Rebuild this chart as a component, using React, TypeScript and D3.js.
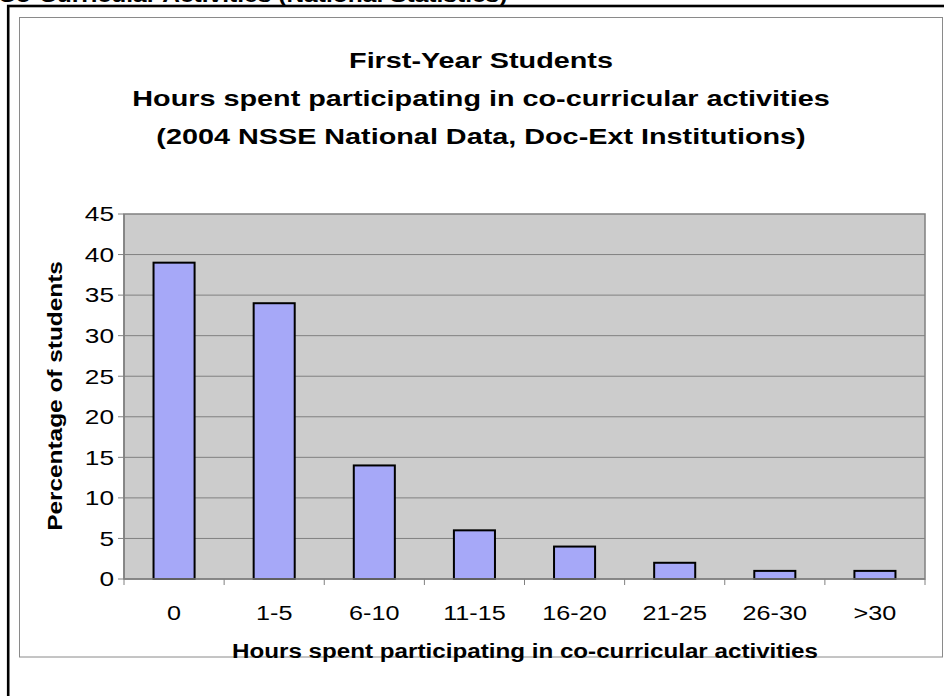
import React from "react";
import * as d3 from "d3";

const categories = ["0", "1-5", "6-10", "11-15", "16-20", "21-25", "26-30", ">30"];
const percentages = [39, 34, 14, 6, 4, 2, 1, 1];
const yTicks = [0, 5, 10, 15, 20, 25, 30, 35, 40, 45];
const titleLines = [
  "First-Year Students",
  "Hours spent participating in co-curricular activities",
  "(2004 NSSE National Data, Doc-Ext Institutions)",
];
const pageHeading = "Co-Curricular Activities (National Statistics)";
const xTitle = "Hours spent participating in co-curricular activities";
const yTitle = "Percentage of students";

const font = "'Liberation Sans', Arial, sans-serif";

// the source's text is wider than Liberation Sans at the same height,
// so every label is stretched along its own direction
const WideText = ({ x, y, sx, rotate, children, ...rest }: any) => (
  <text
    transform={`translate(${x},${y})${rotate ? ` rotate(${rotate})` : ""} scale(${sx},1)`}
    fill="#000"
    {...rest}
  >
    {children}
  </text>
);

const App = () => {
  const plot = { left: 124, right: 925, top: 214, bottom: 579 };

  const x = d3.scaleBand<string>().domain(categories).range([plot.left, plot.right]);
  const y = d3.scaleLinear().domain([0, 45]).range([plot.bottom, plot.top]);
  const barW = x.bandwidth() * 0.41;

  return (
    <svg
      width={944}
      height={696}
      style={{ position: "absolute", left: 0, top: 0, background: "#fff" }}
      fontFamily={font}
    >
      {/* page heading, cut off by the top edge as in the source */}
      <WideText x={-2} y={2} sx={1.17} fontSize={21} fontWeight="bold">
        {pageHeading}
      </WideText>
      {/* outer frame */}
      <rect x={8.2} y={6} width={960} height={720} fill="none" stroke="#000" strokeWidth={2.6} />
      <rect x={19.5} y={17.5} width={923} height={639.5} fill="#fff" stroke="#8a8a8a" strokeWidth={1} />

      {titleLines.map((t, i) => (
        <WideText
          key={t}
          x={481}
          y={68 + i * 38}
          sx={1.28}
          textAnchor="middle"
          fontSize={22.5}
          fontWeight="bold"
        >
          {t}
        </WideText>
      ))}

      <rect
        x={plot.left}
        y={plot.top}
        width={plot.right - plot.left}
        height={plot.bottom - plot.top}
        fill="#cccccc"
        stroke="#808080"
        strokeWidth={1.5}
      />
      {yTicks.slice(1, -1).map((t) => (
        <line key={t} x1={plot.left} x2={plot.right} y1={y(t)} y2={y(t)} stroke="#808080" strokeWidth={1} />
      ))}

      {categories.map((c, i) => (
        <rect
          key={c}
          x={(x(c) as number) + x.bandwidth() / 2 - barW / 2}
          y={y(percentages[i])}
          width={barW}
          height={y(0) - y(percentages[i])}
          fill="#a6a8f8"
          stroke="#000"
          strokeWidth={2}
        />
      ))}

      {/* axes */}
      <line x1={plot.left} x2={plot.left} y1={plot.top} y2={plot.bottom} stroke="#808080" strokeWidth={1.5} />
      <line x1={plot.left} x2={plot.right} y1={plot.bottom} y2={plot.bottom} stroke="#808080" strokeWidth={1.5} />
      {yTicks.map((t) => (
        <g key={t}>
          <line x1={plot.left - 6} x2={plot.left} y1={y(t)} y2={y(t)} stroke="#808080" strokeWidth={1} />
          <WideText x={114} y={y(t)} sx={1.25} dy="0.35em" textAnchor="end" fontSize={21}>
            {t}
          </WideText>
        </g>
      ))}
      {[...categories.map((c) => x(c) as number), plot.right].map((v, i) => (
        <line key={i} x1={v} x2={v} y1={plot.bottom} y2={plot.bottom + 6} stroke="#808080" strokeWidth={1} />
      ))}
      {categories.map((c) => (
        <WideText
          key={c}
          x={(x(c) as number) + x.bandwidth() / 2}
          y={613}
          sx={1.2}
          dy="0.35em"
          textAnchor="middle"
          fontSize={21}
        >
          {c}
        </WideText>
      ))}

      <WideText x={525} y={651} sx={1.21} dy="0.35em" textAnchor="middle" fontSize={20} fontWeight="bold">
        {xTitle}
      </WideText>
      <WideText x={55} y={396} sx={1.22} rotate={-90} dy="0.35em" textAnchor="middle" fontSize={20} fontWeight="bold">
        {yTitle}
      </WideText>
    </svg>
  );
};

export default App;
